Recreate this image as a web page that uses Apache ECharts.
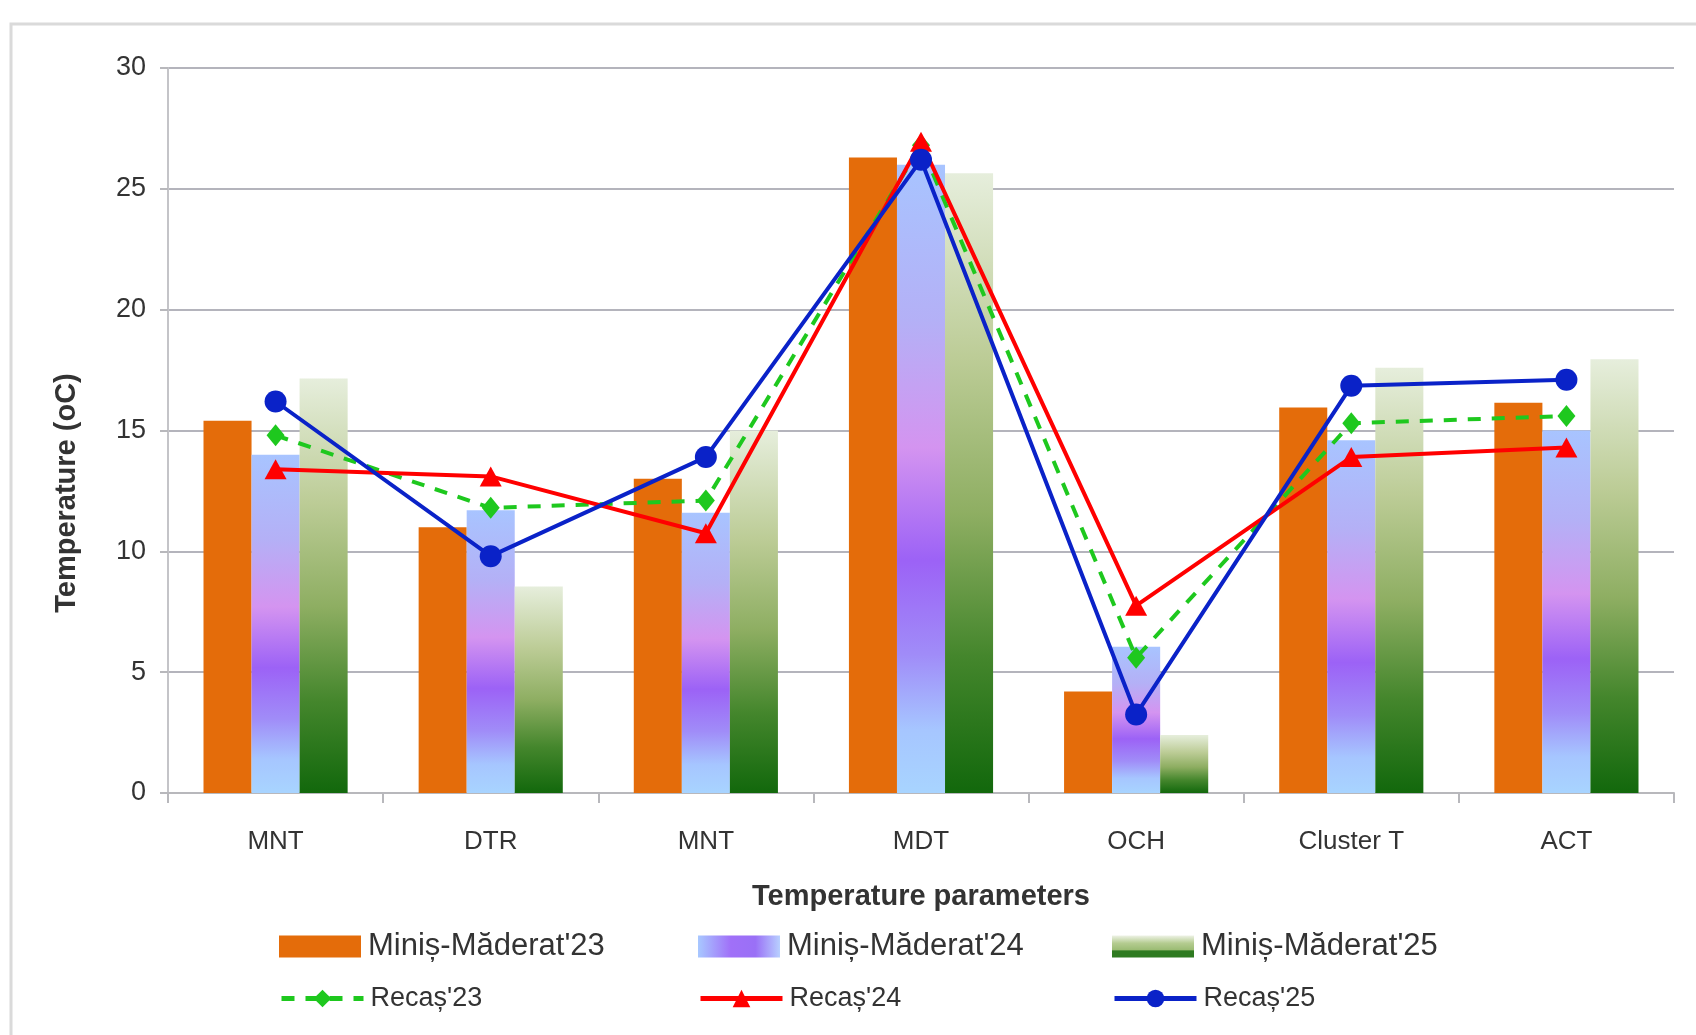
<!DOCTYPE html>
<html>
<head>
<meta charset="utf-8">
<script src="https://cdn.jsdelivr.net/npm/echarts@6/dist/echarts.min.js"></script>
<style>
html,body{margin:0;padding:0;background:#fff;}
#c{width:1696px;height:1035px;}
</style>
</head>
<body>
<div id="c"></div>
<script>
const categories = ['MNT', 'DTR', 'MNT', 'MDT', 'OCH', 'Cluster T', 'ACT'];
const yTicks = [0, 5, 10, 15, 20, 25, 30];
const minis23 = [15.4, 11.0, 13.0, 26.3, 4.2, 15.95, 16.15];
const minis24 = [14.0, 11.7, 11.6, 26.0, 6.05, 14.6, 15.0];
const minis25 = [17.15, 8.55, 15.0, 25.65, 2.4, 17.6, 17.95];
const recas23 = [14.8, 11.8, 12.1, 26.8, 5.6, 15.3, 15.6];
const recas24 = [13.4, 13.1, 10.75, 26.95, 7.75, 13.9, 14.3];
const recas25 = [16.2, 9.8, 13.9, 26.2, 3.25, 16.85, 17.1];
const seriesNames = ["Miniș-Măderat'23", "Miniș-Măderat'24", "Miniș-Măderat'25", "Recaș'23", "Recaș'24", "Recaș'25"];

const FONT = 'Liberation Sans, Arial, sans-serif';
const grad = (stops, horiz) => new echarts.graphic.LinearGradient(0, 0, horiz ? 1 : 0, horiz ? 0 : 1,
  stops.map(s => ({offset: s[0], color: s[1]})));
const purpleStops = [[0,'#a8c4ff'],[0.25,'#b4b0f6'],[0.45,'#d494f0'],[0.63,'#9c62f6'],[0.78,'#a08cf8'],[0.9,'#a6c6ff'],[1,'#a8d4ff']];
const greenStops = [[0,'#e6eedc'],[0.3,'#bccc96'],[0.55,'#8eae62'],[0.78,'#44862c'],[1,'#12680c']];

const chart = echarts.init(document.getElementById('c'), null, {renderer: 'canvas'});

function leg(name, left, top, size, w, h, icon, itemStyle) {
  const d = {name: name};
  if (itemStyle) d.itemStyle = itemStyle;
  const o = {data: [d], left: left, top: top, itemWidth: w, itemHeight: h, itemGap: 0,
    textStyle: {fontFamily: FONT, fontSize: size, color: '#333', padding: [0,0,0,2]},
    padding: 0, selectedMode: false, lineStyle: {width: 5}};
  if (icon) o.icon = icon;
  return o;
}

chart.setOption({
  animation: false,
  backgroundColor: '#fff',
  graphic: [
    {type: 'rect', shape: {x: 11, y: 24, width: 1800, height: 1200},
      style: {fill: 'none', stroke: '#dadada', lineWidth: 3}, z: -10},
    {type: 'text', x: 67, y: 493, rotation: Math.PI / 2,
      style: {text: 'Temperature (oC)', font: 'bold 29px ' + FONT, fill: '#333',
        textAlign: 'center', textVerticalAlign: 'middle'}}
  ],
  grid: {left: 168, right: 22, top: 68, bottom: 242, containLabel: false},
  legend: [
    leg(seriesNames[0], 279, 931, 31, 82, 22, 'rect', {color: '#e46c0a'}),
    leg(seriesNames[1], 698, 931, 31, 82, 22, 'rect', {color: grad([[0,'#a8c8ff'],[0.4,'#a070f8'],[0.7,'#9a70f6'],[1,'#b8d0ff']], true)}),
    leg(seriesNames[2], 1112, 931, 31, 82, 22, 'rect', {color: grad([[0,'#eef2e6'],[0.35,'#b4cc90'],[0.65,'#9cbc74'],[0.7,'#2e7a20'],[1,'#2e7a20']], false)}),
    leg(seriesNames[3], 279, 985, 27, 82, 22),
    leg(seriesNames[4], 698, 985, 27, 82, 22),
    leg(seriesNames[5], 1112, 985, 27, 82, 22)
  ],
  xAxis: {
    type: 'category', data: categories,
    name: 'Temperature parameters', nameLocation: 'middle', nameGap: 89,
    nameTextStyle: {fontFamily: FONT, fontSize: 29, fontWeight: 'bold', color: '#333'},
    axisLine: {lineStyle: {color: '#b8b8bc', width: 2}},
    axisTick: {show: true, length: 10, lineStyle: {color: '#b8b8bc', width: 2}},
    axisLabel: {fontFamily: FONT, fontSize: 26, color: '#333', margin: 36}
  },
  yAxis: {
    type: 'value', min: 0, max: 30, interval: 5,
    axisLine: {show: true, lineStyle: {color: '#c4c4c8', width: 2}},
    axisTick: {show: true, length: 8, lineStyle: {color: '#b8b8bc', width: 2}},
    splitLine: {lineStyle: {color: '#b4b4bc', width: 2}},
    axisLabel: {fontFamily: FONT, fontSize: 27, color: '#333', margin: 22,
      formatter: v => yTicks.includes(v) ? String(v) : ''}
  },
  series: [
    {name: seriesNames[0], type: 'bar', data: minis23, barGap: '0%', barCategoryGap: '33%',
      itemStyle: {color: '#e46c0a'}},
    {name: seriesNames[1], type: 'bar', data: minis24, itemStyle: {color: grad(purpleStops)}},
    {name: seriesNames[2], type: 'bar', data: minis25, itemStyle: {color: grad(greenStops)}},
    {name: seriesNames[3], type: 'line', data: recas23, symbol: 'diamond', symbolSize: [18, 22],
      lineStyle: {color: '#1ec81e', width: 4, type: [13, 11]}, itemStyle: {color: '#1ec81e'}, z: 5},
    {name: seriesNames[4], type: 'line', data: recas24, symbol: 'triangle', symbolSize: [22, 20],
      lineStyle: {color: '#ff0000', width: 4}, itemStyle: {color: '#ff0000'}, z: 6},
    {name: seriesNames[5], type: 'line', data: recas25, symbol: 'circle', symbolSize: 22,
      lineStyle: {color: '#0a22c8', width: 4}, itemStyle: {color: '#0a22c8'}, z: 7}
  ]
});
</script>
</body>
</html>
